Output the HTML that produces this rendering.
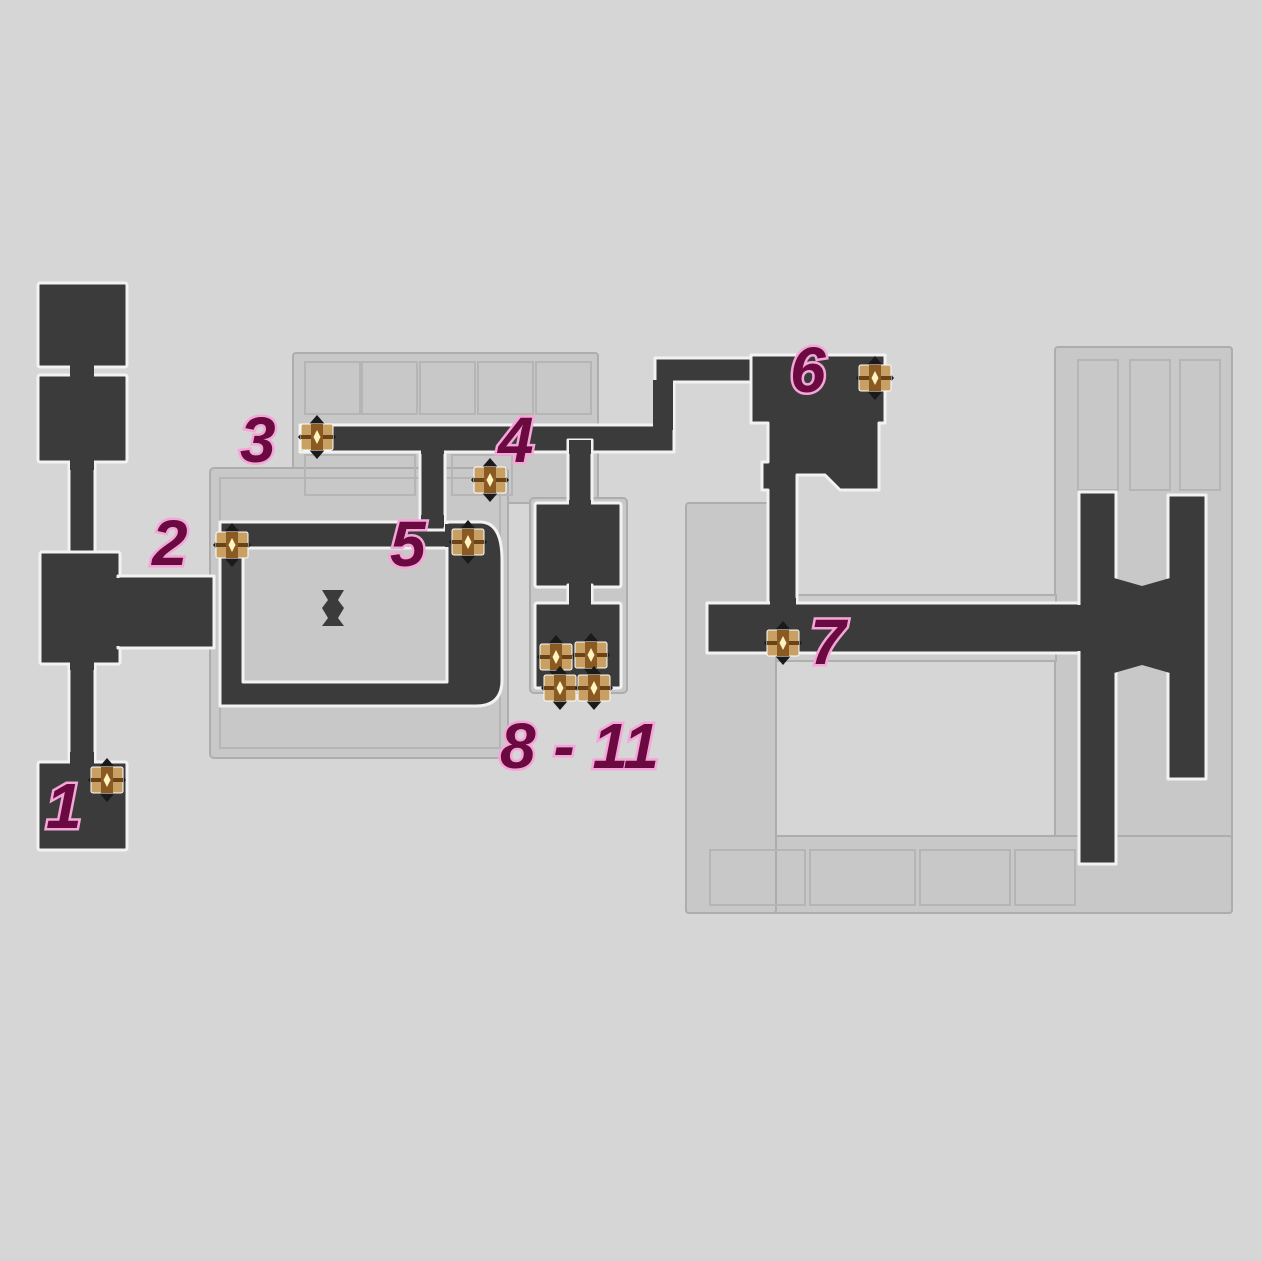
<!DOCTYPE html>
<html><head><meta charset="utf-8"><style>
html,body{margin:0;padding:0;background:#d6d6d6;}
svg{display:block}
.lbl{font-family:"Liberation Sans",sans-serif;font-weight:bold;font-style:italic;font-size:64px;fill:#6a0a40;stroke:#f4a6d8;stroke-width:5px;paint-order:stroke;}
</style></head><body>
<svg width="1262" height="1261" viewBox="0 0 1262 1261" xmlns="http://www.w3.org/2000/svg">
<defs>
<g id="ch">
<path d="M0,-22 L19,0 L0,22 L-19,0Z" fill="#1a1a1a"/>
<rect x="-16" y="-13" width="32" height="26" rx="2" fill="#c9a063" stroke="#fff" stroke-width="1"/>
<rect x="-16" y="-2" width="32" height="4" fill="#6b4318"/>
<rect x="-6" y="-13" width="12" height="26" fill="#8a5a22"/>
<path d="M0,-7 L3.5,0 L0,7 L-3.5,0Z" fill="#fff3c0"/>
</g>
</defs>
<rect width="1262" height="1261" fill="#d6d6d6"/>

<g fill="#c8c8c8" stroke="#adadad" stroke-width="2">
<rect x="293" y="353" width="305" height="150" rx="3"/>
<rect x="210" y="468" width="298" height="290" rx="4"/>
<rect x="1055" y="347" width="177" height="566" rx="3"/>
<rect x="686" y="836" width="546" height="77" rx="3"/>
<rect x="686" y="503" width="90" height="410" rx="3"/>
<rect x="530" y="498" width="97" height="195" rx="4"/>
</g>
<g fill="none" stroke="#b5b5b5" stroke-width="2">
<rect x="305" y="362" width="55" height="52"/><rect x="362" y="362" width="55" height="52"/><rect x="420" y="362" width="55" height="52"/><rect x="478" y="362" width="55" height="52"/><rect x="536" y="362" width="55" height="52"/>
<rect x="305" y="455" width="110" height="40"/><rect x="452" y="455" width="60" height="40"/>
<rect x="220" y="478" width="280" height="270"/>
<rect x="1078" y="360" width="40" height="130"/><rect x="1130" y="360" width="40" height="130"/><rect x="1180" y="360" width="40" height="130"/>
<rect x="710" y="850" width="95" height="55"/><rect x="810" y="850" width="105" height="55"/><rect x="920" y="850" width="90" height="55"/><rect x="1015" y="850" width="60" height="55"/>
</g>
<rect x="776" y="595" width="280" height="66" fill="#cdcdcd" stroke="#b0b0b0" stroke-width="2"/>

<g fill="#3b3b3b" stroke="#f2f2f2" stroke-width="3" stroke-linejoin="round">
<rect x="38" y="283" width="89" height="84" rx="2"/>
<rect x="38" y="375" width="89" height="87" rx="2"/>
<rect x="69" y="462" width="26" height="100"/>
<rect x="70" y="360" width="24" height="20" stroke="none"/>
<rect x="40" y="552" width="80" height="112" rx="2"/>
<rect x="118" y="576" width="96" height="72"/>
<rect x="69" y="664" width="26" height="98"/>
<rect x="38" y="762" width="89" height="88" rx="2"/>
<path d="M220,522 H447 V548 H243 V682 H447 V522 H480 Q502,522 502,560 V680 Q502,706 476,706 H220 Z"/>
<rect x="420" y="440" width="25" height="90"/>
<path d="M300,425 H655 V358 H751 V382 H674 V452 H300 Z"/>
<rect x="568" y="440" width="24" height="70"/>
<rect x="535" y="503" width="86" height="84" rx="2"/>
<rect x="568" y="585" width="24" height="20"/>
<rect x="535" y="603" width="86" height="85" rx="2"/>
<path d="M751,355 H885 V423 H879 V490 H840 L825,475 H797 V603 H768 V490 H762 V462 H768 V423 H751Z"/>
<rect x="707" y="603" width="375" height="50"/>
<rect x="1079" y="492" width="37" height="372"/>
<rect x="1168" y="495" width="38" height="284"/>
<path d="M1114,578 L1142,586 L1170,578 V673 L1142,665 L1114,673Z" stroke="none"/>
</g>
<g fill="#3b3b3b"><rect x="70" y="455" width="24" height="15"/><rect x="70" y="655" width="24" height="15"/><rect x="70" y="752" width="24" height="15"/><rect x="110" y="578" width="20" height="68"/><rect x="569" y="500" width="22" height="10"/><rect x="569" y="580" width="22" height="30"/><rect x="1075" y="605" width="10" height="46"/><rect x="770" y="598" width="26" height="10"/><rect x="421" y="440" width="23" height="14"/><rect x="569" y="440" width="22" height="14"/><rect x="421" y="515" width="23" height="12"/><rect x="445" y="524" width="5" height="23"/><rect x="653" y="380" width="20" height="50"/></g>
<path d="M322,590 h22 l-6,10 6,8 -6,10 6,8 h-22 l6,-8 -6,-10 6,-8z" fill="#3b3b3b"/>

<use href="#ch" x="107" y="780"/>
<use href="#ch" x="232" y="545"/>
<use href="#ch" x="317" y="437"/>
<use href="#ch" x="490" y="480"/>
<use href="#ch" x="468" y="542"/>
<use href="#ch" x="875" y="378"/>
<use href="#ch" x="783" y="643"/>
<use href="#ch" x="556" y="657"/>
<use href="#ch" x="591" y="655"/>
<use href="#ch" x="560" y="688"/>
<use href="#ch" x="594" y="688"/>

<text class="lbl" x="46" y="828">1</text>
<text class="lbl" x="152" y="565">2</text>
<text class="lbl" x="240" y="462">3</text>
<text class="lbl" x="498" y="462">4</text>
<text class="lbl" x="390" y="566">5</text>
<text class="lbl" x="790" y="392">6</text>
<text class="lbl" x="810" y="664">7</text>
<text class="lbl" x="500" y="768">8 - 11</text>
</svg>
</body></html>
